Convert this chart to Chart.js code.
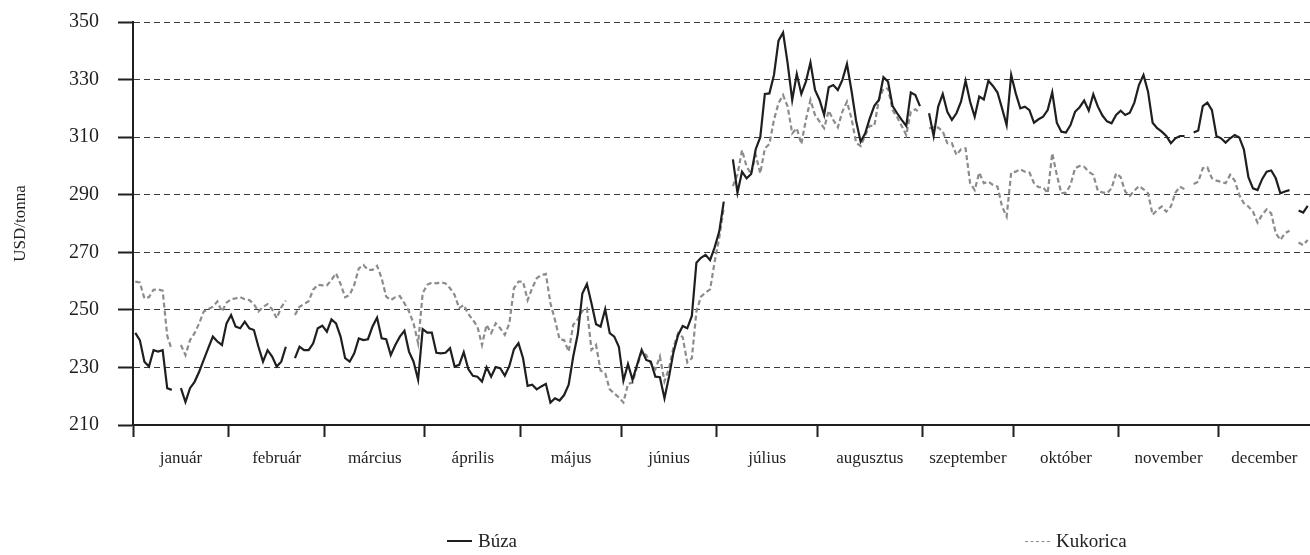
<!DOCTYPE html>
<html lang="hu">
<head>
<meta charset="utf-8">
<title>Búza és kukorica ára</title>
<script src="https://cdn.jsdelivr.net/npm/chart.js@4.4.1/dist/chart.umd.min.js"></script>
<style>
    html, body { margin: 0; padding: 0; background: #fff; }
    #wrap { position: relative; width: 1310px; height: 555px; }
    #legend { position: absolute; left: 0; top: 527px; width: 1310px; height: 28px; font-family: "Liberation Serif", serif; font-size: 19px; color: #222; }
    .item { position: absolute; top: 0; display: flex; align-items: center; height: 28px; }
    .swatch { width: 25px; height: 0; margin-right: 6px; }
</style>
</head>
<body>
<div id="wrap">
    <canvas id="chart"></canvas>
    <div id="legend"></div>
</div>
<script>
// ================= DATA =================
const months = ["január", "február", "március", "április", "május", "június",
    "július", "augusztus", "szeptember", "október", "november", "december"];

// index of the first trading day of every month (2012, weekdays)
const monthStarts = [0, 21, 42, 64, 85, 107, 128, 150, 173, 193, 216, 238];
const dayCount = 258;

const yTicks = [210, 230, 250, 270, 290, 310, 330, 350];

// Búza, USD/tonna, one value per trading day (null = holiday)
const wheat = [
    // január
    242, 239.5, 232, 230.3, 236, 235.5, 236, 222.8, 222.2, null, 222.8, 218, 222.8, 225, 228.5, 232.6, 236.7, 240.7, 239, 237.8, 245.3,
    // február
    248.2, 244.2, 243.6, 245.9, 243.6, 243, 237.2, 232, 236, 233.8, 230.3, 232, 237.2, null, 233.2, 237.2, 236, 236, 238.4, 243.6, 244.5,
    // március
    242.4, 246.7, 245.3, 240.7, 233.2, 232, 234.9, 240.1, 239.5, 239.8, 244.2, 247.3, 240.1, 239.8, 234.3, 237.8, 240.7, 242.7, 235.5, 232, 225.7, 243.3,
    // április
    242.1, 242.1, 235.1, 234.9, 235.1, 236.7, 230.3, 230.9, 235.3, 229.4, 227.1, 226.8, 225.1, 230.1, 226.8, 230.1, 229.7, 227.1, 230.5, 236.3, 238.4,
    // május
    233.2, 223.6, 224, 222.4, 223.4, 224.3, 217.8, 219.3, 218.5, 220.4, 224, 233.8, 241.6, 255.7, 259, 252.3, 245, 244.2, 250.2, 241.9, 240.7, 237.2,
    // június
    225.4, 231.2, 225.7, 230.9, 236.1, 232.6, 232, 226.8, 226.6, 219.3, 226.8, 235.5, 241.3, 244.4, 243.6, 247.9, 266.4, 268.1, 269.1, 267.3, 271.7,
    // július
    277.2, 287.6, null, 302.3, 290.7, 298, 295.7, 297.2, 305.8, 310, 325, 325.2, 331.6, 343.5, 346.3, 335.6, 322.9, 331.9, 325, 329.3, 335.9, 326.4,
    // augusztus
    322.9, 317.7, 327.3, 328.1, 326.4, 329.9, 335.4, 326.1, 315.7, 308.4, 311.3, 316.5, 320.9, 322.9, 330.8, 329.3, 320.8, 318.3, 316, 313.9, 325.5, 324.6, 320.8,
    // szeptember
    null, 318.3, 310.4, 320.6, 325, 318.8, 316, 318.3, 322.3, 329.6, 322.3, 317.1, 324.1, 323.1, 329.6, 327.8, 325.5, 320, 314.2, 331.6,
    // október
    325.2, 320, 320.6, 319.4, 315, 316.2, 317.1, 319.4, 325.6, 315, 311.9, 311.6, 314.2, 318.8, 320.4, 322.7, 319.2, 324.9, 320.6, 317.5, 315.5, 314.8, 317.7,
    // november
    319.2, 317.7, 318.5, 322, 328.1, 331.6, 325.8, 315, 313.1, 311.9, 310.4, 307.9, 309.6, 310.4, 310.4, null, 311.6, 312.3, 320.8, 322, 319.4, 310.4,
    // december
    309.6, 308.1, 309.6, 310.7, 309.9, 305.8, 296.1, 292.2, 291.6, 295.4, 298, 298.4, 295.7, 290.5, 291.1, 291.6, null, 284.5, 283.8, 286.1
];

// Kukorica, USD/tonna
const corn = [
    // január
    259.8, 259.5, 254, 254.4, 257, 257.1, 256.7, 241, 236.1, null, 237.8, 234.3, 239.5, 241.9, 245.3, 249.4, 250.2, 251.1, 252.9, 249.4, 252.5,
    // február
    253.7, 254, 254.4, 253.7, 253.4, 252, 249.4, 251, 252, 250.2, 247.1, 250.9, 253.2, null, 248.2, 251.1, 252, 253, 257, 258.7, 258.5,
    // március
    258.5, 260.4, 262.7, 259, 254.4, 255.2, 258.7, 264.4, 265.6, 263.9, 263.9, 265.3, 261, 254.6, 253.4, 254.4, 254.8, 252.3, 249.4, 245.3, 238.4, 255.8,
    // április
    258.7, 259.5, 259.2, 259.6, 259.2, 257.5, 255.2, 250.6, 251.7, 248.6, 246.5, 244.2, 237.8, 244.8, 241.9, 245.3, 243.6, 241.3, 245.3, 257.5, 259.8,
    // május
    259.8, 253.4, 257.5, 261, 262.1, 262.5, 252.3, 246.5, 239.8, 239.5, 235.5, 244.8, 246.7, 249.7, 250.5, 236.1, 237.8, 228.9, 228, 222.4, 221, 219.6,
    // június
    217.8, 224.3, 224.7, 230.3, 235.5, 234.3, 231.4, 229.4, 233.8, 225.1, 229.7, 237.2, 241.9, 240.5, 231.7, 233.2, 249.4, 254.6, 256, 257.1, 266.7,
    // július
    275, 285.5, null, 293, 297, 305.5, 299.8, 297.2, 303.8, 297.4, 306.1, 307.6, 316, 321.8, 324.6, 320.6, 311.3, 313.1, 307.6, 316, 322.9, 317.7,
    // augusztus
    315.4, 313.1, 319.2, 316, 313.4, 318.9, 322.3, 316.5, 308.1, 306.9, 310.7, 313.9, 313.9, 322.9, 326.9, 326.9, 319.4, 316.9, 313.9, 310.7, 318.9, 319.7, 318.3,
    // szeptember
    null, 313, 313.6, 313.3, 312, 307.9, 307.9, 303.8, 305.8, 306.1, 294, 291.6, 297.7, 294, 294.5, 293.4, 292.8, 285.9, 282.4, 297.7,
    // október
    298, 298.8, 298, 297.7, 294, 292.6, 292.6, 290.5, 304.4, 296.9, 290.5, 290.7, 293.4, 299.2, 300, 299.7, 298, 296.9, 291.4, 290.8, 290.5, 292.2, 297.4,
    // november
    296.1, 291.1, 289.6, 291.4, 293, 291.9, 290.5, 283, 284.7, 285.9, 284.1, 285.9, 290.7, 292.8, 291.9, null, 293.7, 294.5, 299.2, 299.5, 295.7, 294.9,
    // december
    294.5, 294, 296.9, 294.9, 289.9, 287, 285.9, 284.1, 280.3, 283, 284.9, 283.5, 276.6, 274.3, 276.6, 277.5, null, 273.4, 272.5, 274.3
];


// ================= STYLE =================
const FONT = "'Liberation Serif', 'Times New Roman', serif";
const INK = "#1f1f1f";

function toPoints(values) {
    // each trading day sits in the middle of its slot
    return values.map((v, i) => ({ x: i + 0.5, y: v }));
}

function monthMiddles() {
    return monthStarts.map((start, i) => {
        const end = i + 1 < monthStarts.length ? monthStarts[i + 1] : dayCount;
        return (start + end) / 2;
    });
}


// ================= CHART =================
const datasets = [
    {
        label: "Búza",
        data: toPoints(wheat),
        borderColor: INK,
        borderWidth: 2.2,
        pointRadius: 0,
        tension: 0,
        spanGaps: false
    },
    {
        label: "Kukorica",
        data: toPoints(corn),
        borderColor: "#8c8c8c",
        borderWidth: 2.2,
        borderDash: [5, 3],
        pointRadius: 0,
        tension: 0,
        spanGaps: false
    }
];

const chart = new Chart(document.getElementById("chart"), {
    type: "line",
    data: { datasets },
    options: {
        responsive: true,
        maintainAspectRatio: false,
        animation: false,
        devicePixelRatio: 1,
        layout: { padding: { top: 22, right: 0, bottom: 0, left: 0 } },
        plugins: {
            legend: { display: false },
            tooltip: { enabled: false }
        },
        scales: {
            x: {
                type: "linear",
                position: "bottom",
                weight: 0,
                min: 0,
                max: dayCount,
                afterBuildTicks: scale => {
                    scale.ticks = monthStarts.map(v => ({ value: v }));
                },
                ticks: { display: false },
                grid: {
                    drawOnChartArea: false,
                    drawTicks: true,
                    tickLength: 12,
                    tickWidth: 2,
                    tickColor: INK
                },
                border: { display: true, color: INK, width: 2 },
                afterFit: scale => { scale.height = 12; }
            },
            months: {
                type: "linear",
                position: "bottom",
                weight: 1,
                min: 0,
                max: dayCount,
                afterBuildTicks: scale => {
                    scale.ticks = monthMiddles().map(v => ({ value: v }));
                },
                ticks: {
                    autoSkip: false,
                    maxRotation: 0,
                    padding: 11,
                    color: INK,
                    font: { family: FONT, size: 17 },
                    callback: (value, index) => months[index]
                },
                grid: { display: false, drawTicks: false },
                border: { display: false },
                afterFit: scale => {
                    scale.height = 118;
                    scale.paddingLeft = 0;
                    scale.paddingRight = 0;
                }
            },
            y: {
                min: yTicks[0],
                max: yTicks[yTicks.length - 1],
                afterBuildTicks: scale => {
                    scale.ticks = yTicks.map(v => ({ value: v }));
                },
                ticks: {
                    padding: 19,
                    color: INK,
                    font: { family: FONT, size: 20 }
                },
                grid: {
                    color: "#3a3a3a",
                    lineWidth: 1,
                    tickColor: INK,
                    tickLength: 15,
                    tickWidth: 2,
                    tickBorderDash: []
                },
                border: { display: true, color: INK, width: 2, dash: [6, 4] },
                title: {
                    display: true,
                    text: "USD/tonna",
                    color: INK,
                    font: { family: FONT, size: 17 },
                    padding: { top: 10, bottom: 0 }
                },
                afterFit: scale => {
                    // keep the plot box where the reference has it
                    scale.width = 133;
                    scale.paddingTop = 0;
                    scale.paddingBottom = 0;
                }
            }
        }
    }
});


// ================= LEGEND =================
const legendSpots = [447, 1025];

function buildLegend() {
    const box = document.getElementById("legend");
    chart.data.datasets.forEach((ds, i) => {
        const item = document.createElement("div");
        item.className = "item";
        item.style.left = legendSpots[i] + "px";

        const swatch = document.createElement("span");
        swatch.className = "swatch";
        const style = ds.borderDash ? "dashed" : "solid";
        const width = ds.borderDash ? 1.5 : 2.5;
        swatch.style.borderTop = width + "px " + style + " " + ds.borderColor;

        const text = document.createElement("span");
        text.textContent = ds.label;

        item.appendChild(swatch);
        item.appendChild(text);
        box.appendChild(item);
    });
}

buildLegend();
</script>
</body>
</html>
